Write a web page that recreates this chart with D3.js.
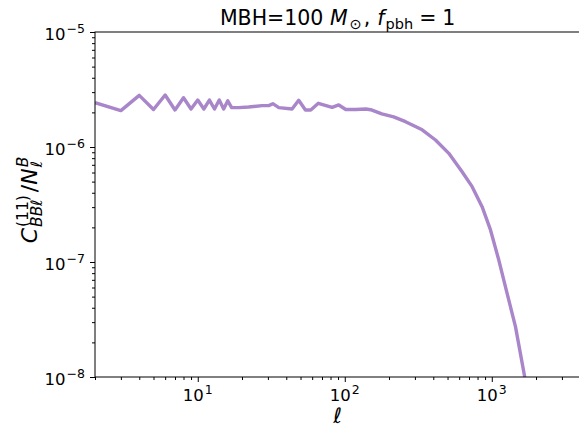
<!DOCTYPE html>
<html>
<head>
<meta charset="utf-8">
<script src="https://cdn.jsdelivr.net/npm/d3@7"></script>
<style>
  body { margin: 0; background: #fff; }
  svg { font-family: "DejaVu Sans", sans-serif; }
  text { white-space: pre; }
</style>
</head>
<body>
<div id="chart_container"></div>
<script>
// multipole values
var ell = [2, 3, 4, 5, 6, 7, 8, 9, 10, 11, 12, 13, 14, 15, 16, 17,
    19, 22.2, 27.4, 30.4, 32.4, 35.6, 43.8, 48.6, 54, 58.7, 66.1, 82, 91, 101.6,
    118.8, 139, 150, 178.6, 215, 259, 336, 414, 510, 628, 735, 859, 980,
    1116, 1271, 1449, 1675, 1800]
// C_BB^(11) / N^B
var ratio = [2.43e-6, 2.07e-6, 2.81e-6, 2.12e-6, 2.83e-6, 2.10e-6, 2.68e-6, 2.14e-6,
    2.56e-6, 2.14e-6, 2.56e-6, 2.14e-6, 2.56e-6, 2.14e-6, 2.52e-6, 2.20e-6,
    2.20e-6, 2.23e-6, 2.29e-6, 2.29e-6, 2.38e-6, 2.20e-6, 2.14e-6, 2.55e-6, 2.10e-6,
    2.10e-6, 2.40e-6, 2.21e-6, 2.32e-6, 2.12e-6, 2.12e-6, 2.14e-6, 2.11e-6, 1.94e-6,
    1.83e-6, 1.66e-6, 1.41e-6, 1.15e-6, 8.81e-7, 6.10e-7, 4.52e-7, 3.03e-7, 1.90e-7,
    1.04e-7, 5.34e-8, 2.74e-8, 1.0e-8, 6.1e-9]

var x_ticks = [10, 100, 1000]
var x_tick_exp = ["1", "2", "3"]
var y_ticks = [1e-8, 1e-7, 1e-6, 1e-5]
var y_tick_exp = ["\u22128", "\u22127", "\u22126", "\u22125"]

var W = 579, H = 428
var p_left = 95, p_right = 580.3, p_top = 32, p_bottom = 377
var tick_fs = 16.5, sup_fs = 12.5

var svg = d3.select("#chart_container")
    .append("svg")
        .attr("width", W)
        .attr("height", H)

var x = d3.scaleLog().domain([2, 4000]).range([p_left, p_right])
var y = d3.scaleLog().domain([1e-8, 1e-5]).range([p_bottom, p_top])

svg.append("clipPath").attr("id", "plot_clip")
    .append("rect")
        .attr("x", p_left).attr("y", p_top)
        .attr("width", p_right - p_left).attr("height", p_bottom - p_top)

// minor ticks
var x_minor = [], y_minor = []
;[1, 10, 100, 1000].forEach(function(dec) {
    for (var m = 2; m <= 9; m++) {
        var v = m * dec
        if (v >= 2 && v <= 4000) x_minor.push(v)
    }
})
;[1e-8, 1e-7, 1e-6].forEach(function(dec) {
    for (var m = 2; m <= 9; m++) y_minor.push(m * dec)
})

var xAxis = d3.axisBottom(x).tickValues(x_ticks).tickSize(5).tickFormat("")
var xAxisMinor = d3.axisBottom(x).tickValues(x_minor).tickSize(3).tickFormat("")
var yAxis = d3.axisLeft(y).tickValues(y_ticks).tickSize(5).tickFormat("")
var yAxisMinor = d3.axisLeft(y).tickValues(y_minor).tickSize(3).tickFormat("")

function style_axis(g) {
    g.select(".domain").remove()
    g.selectAll(".tick line").attr("stroke", "#000").attr("stroke-width", 1)
}

svg.append("g").attr("transform", "translate(0," + p_bottom + ")").call(xAxis).call(style_axis)
svg.append("g").attr("transform", "translate(0," + p_bottom + ")").call(xAxisMinor).call(style_axis)
svg.append("g").attr("transform", "translate(" + p_left + ",0)").call(yAxis).call(style_axis)
svg.append("g").attr("transform", "translate(" + p_left + ",0)").call(yAxisMinor).call(style_axis)

// tick labels as 10^n
x_ticks.forEach(function(v, i) {
    var t = svg.append("text")
        .attr("x", x(v)).attr("y", p_bottom + 24)
        .attr("text-anchor", "middle")
        .attr("font-size", tick_fs)
    t.append("tspan").text("10")
    t.append("tspan").attr("dy", -7).attr("dx", 1).attr("font-size", sup_fs).text(x_tick_exp[i])
})
y_ticks.forEach(function(v, i) {
    var t = svg.append("text")
        .attr("x", p_left - 10).attr("y", y(v) + 8)
        .attr("text-anchor", "end")
        .attr("font-size", tick_fs)
    t.append("tspan").text("10")
    t.append("tspan").attr("dy", -7).attr("dx", 1).attr("font-size", sup_fs).text(y_tick_exp[i])
})

// curve
var line = d3.line()
    .x(function(d) { return x(d[0]) })
    .y(function(d) { return y(d[1]) })

svg.append("path")
    .datum(ell.map(function(l, i) { return [l, ratio[i]] }))
    .attr("clip-path", "url(#plot_clip)")
    .attr("fill", "none")
    .attr("stroke", "#a985ca")
    .attr("stroke-width", 3.4)
    .attr("stroke-linejoin", "round")
    .attr("d", line)

// spines
svg.append("rect")
    .attr("x", p_left).attr("y", p_top)
    .attr("width", p_right - p_left).attr("height", p_bottom - p_top)
    .attr("fill", "none").attr("stroke", "#000").attr("stroke-width", 1)

// small helper to lay out math-ish labels; parts positioned one after another
function math_label(g, parts, anchor_x, baseline) {
    var cur = 0, last_start = 0, last_w = 0
    var nodes = []
    parts.forEach(function(p) {
        var t = g.append("text")
            .attr("font-size", p.size)
            .attr("font-style", p.italic ? "italic" : "normal")
            .attr("y", baseline + (p.dy || 0))
            .text(p.t)
        var w = t.node().getComputedTextLength()
        var start
        if (p.stack) {
            start = last_start
            cur = Math.max(last_start + last_w, start + w)
        } else {
            start = cur + (p.dx || 0)
            cur = start + w
        }
        t.attr("x", start)
        last_start = start
        last_w = w
        nodes.push(t)
    })
    var shift = anchor_x - cur / 2
    nodes.forEach(function(t) { t.attr("x", +t.attr("x") + shift) })
}

// title
var title_g = svg.append("g")
math_label(title_g, [
    {t: "MBH=100 ", size: 20.5},
    {t: "M", size: 20.5, italic: true},
    {t: "\u2299", size: 14.5, dy: 4, dx: 2},
    {t: ",", size: 20.5, dx: 2},
    {t: "f", size: 20.5, italic: true, dx: 7},
    {t: "pbh", size: 14.5, dy: 4, dx: 1},
    {t: "=", size: 20.5, dx: 6},
    {t: "1", size: 20.5, dx: 6}
], (p_left + p_right) / 2, 25)

// x label
svg.append("text")
    .attr("x", (p_left + p_right) / 2).attr("y", 423)
    .attr("text-anchor", "middle")
    .attr("font-size", 21)
    .attr("font-style", "italic")
    .text("\u2113")

// y label, rotated
var ylab = svg.append("g").attr("transform", "rotate(-90)")
math_label(ylab, [
    {t: "C", size: 22, italic: true},
    {t: "(11)", size: 15.5, dy: -9, dx: 1},
    {t: "BB\u2113", size: 15.5, dy: 5, italic: true, stack: true},
    {t: "/", size: 22, dx: 3},
    {t: "N", size: 22, italic: true},
    {t: "B", size: 15.5, dy: -9, italic: true, dx: 1},
    {t: "\u2113", size: 15.5, dy: 5, italic: true, stack: true}
], -200, 37)
</script>
</body>
</html>
